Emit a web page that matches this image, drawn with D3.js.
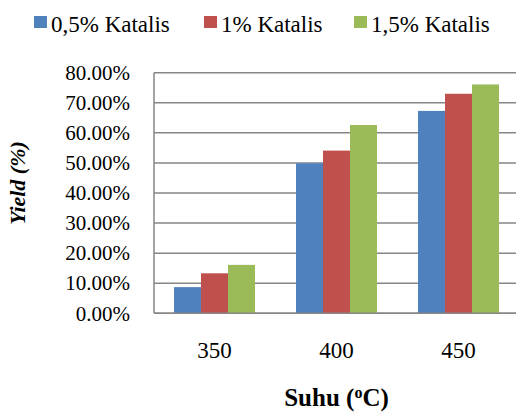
<!DOCTYPE html>
<html>
<head>
<meta charset="utf-8">
<script src="https://cdn.jsdelivr.net/npm/d3@7/dist/d3.min.js"></script>
</head>
<body style="margin:0">
<svg id="s" width="518" height="412" font-family="Liberation Serif"></svg>
<script>
const categories = ["350", "400", "450"];
const seriesNames = ["0,5% Katalis", "1% Katalis", "1,5% Katalis"];
const catalyst05 = [8.7, 49.9, 67.3];
const catalyst1 = [13.3, 54.1, 73.0];
const catalyst15 = [16.1, 62.6, 76.1];
const yTicks = [0, 10, 20, 30, 40, 50, 60, 70, 80];
const colors = ["#4F81BD", "#C0504D", "#9BBB59"];

const series = [catalyst05, catalyst1, catalyst15];

const svg = d3.select("#s");
function serif(sel) { return sel.style("font-family", '"Liberation Serif"'); }

const plotLeft = 154, plotRight = 519.5, plotTop = 72.7, plotBottom = 313.3;

const y = d3.scaleLinear().domain([0, 80]).range([plotBottom, plotTop]);
const pad = 41 / 122;
const x0 = d3.scaleBand().domain(categories).range([plotLeft - 0.5, plotRight]).paddingInner(pad).paddingOuter(pad / 2);
const x1 = d3.scaleBand().domain(d3.range(series.length)).range([0, x0.bandwidth()]);

// gridlines
svg.append("g").selectAll("line").data(yTicks).join("line")
  .attr("x1", plotLeft).attr("x2", 516)
  .attr("y1", d => y(d)).attr("y2", d => y(d))
  .attr("stroke", "#868686").attr("stroke-width", 1.5);

// bars
const groups = svg.append("g").selectAll("g").data(categories).join("g")
  .attr("transform", d => `translate(${x0(d)},0)`);
groups.selectAll("rect").data((d, i) => series.map((s, j) => ({ j, v: s[i] }))).join("rect")
  .attr("x", d => x1(d.j)).attr("width", x1.bandwidth())
  .attr("y", d => y(d.v)).attr("height", d => y(0) - y(d.v))
  .attr("fill", d => colors[d.j]);

// axis lines
svg.append("line").attr("x1", plotLeft).attr("x2", plotLeft).attr("y1", plotTop).attr("y2", plotBottom)
  .attr("stroke", "#868686").attr("stroke-width", 1.5);
svg.append("line").attr("x1", plotLeft).attr("x2", 516).attr("y1", plotBottom).attr("y2", plotBottom)
  .attr("stroke", "#868686").attr("stroke-width", 1.5);

// y axis tick labels
const yAxis = d3.axisLeft(y).tickValues(yTicks).tickSize(0).tickPadding(0)
  .tickFormat(d => d3.format(".2f")(d) + "%");
const ya = svg.append("g").attr("transform", "translate(130,0)").call(yAxis);
ya.select(".domain").remove();
ya.attr("font-family", "Liberation Serif");
serif(ya.selectAll("text")).style("font-size", "21px").attr("fill", "#000");

// x axis tick labels
const xAxis = d3.axisBottom(x0).tickSize(0).tickPadding(0);
const xa = svg.append("g").attr("transform", "translate(0,342)").call(xAxis);
xa.select(".domain").remove();
xa.attr("font-family", "Liberation Serif");
serif(xa.selectAll("text")).style("font-size", "23px").attr("fill", "#000");

// axis titles
const xt = serif(svg.append("text")).attr("x", 336.5).attr("y", 405.5).attr("text-anchor", "middle")
  .style("font-size", "25px").style("font-weight", "bold");
xt.append("tspan").text("Suhu (");
xt.append("tspan").text("o").style("font-size", "16px").attr("dy", -8);
xt.append("tspan").text("C)").attr("dy", 8);

serif(svg.append("text")).attr("transform", "translate(25,183) rotate(-90)").attr("text-anchor", "middle")
  .style("font-size", "22px").style("font-weight", "bold").style("font-style", "italic")
  .text("Yield (%)");

// legend
const legendX = [34, 204, 354];
const lg = svg.append("g").selectAll("g").data(seriesNames).join("g")
  .attr("transform", (d, i) => `translate(${legendX[i]},0)`);
lg.append("rect").attr("x", 0).attr("y", 16).attr("width", 13).attr("height", 12)
  .attr("fill", (d, i) => colors[i]);
serif(lg.append("text")).attr("x", 17).attr("y", 31.5).style("font-size", "23px").text(d => d);
</script>
</body>
</html>
